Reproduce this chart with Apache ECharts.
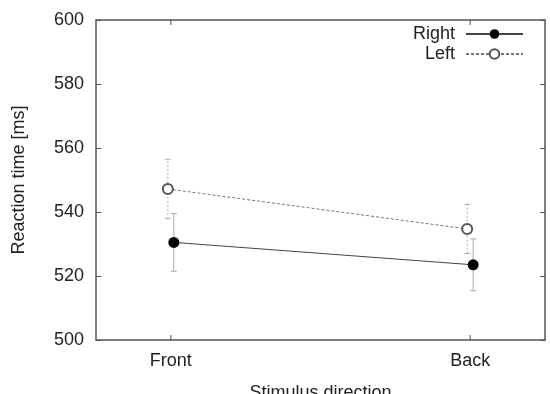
<!DOCTYPE html>
<html><head><meta charset="utf-8">
<script src="https://cdn.jsdelivr.net/npm/echarts@6/dist/echarts.min.js"></script>
<style>html,body{margin:0;padding:0;background:#fff}#c{width:550px;height:394px}</style>
</head><body><div id="c"></div>
<script>
const categories = ['Front', 'Back'];
const rightMeans = [530.5, 523.5];
const rightErr = [9.0, 8.1];
const leftMeans = [547.2, 534.7];
const leftErr = [9.3, 7.7];
const yTicks = [500, 520, 540, 560, 580, 600];
const offset = 0.01;

const FONT = 'Liberation Sans';
const FS = 18;
const TXT = '#222';
const chart = echarts.init(document.getElementById('c'));

function pts(means, dx) { return means.map((v, i) => [i + dx, v]); }
function errData(means, errs, dx) { return means.map((v, i) => [i + dx, v - errs[i], v + errs[i]]); }

function errSeries(data, dashed) {
  return {
    type: 'custom', silent: true, z: 1,
    data: data,
    renderItem: function (params, api) {
      const x = api.value(0);
      const lo = api.coord([x, api.value(1)]);
      const hi = api.coord([x, api.value(2)]);
      const w = 3;
      const style = { stroke: '#aaa', lineWidth: 1, lineDash: dashed ? [2, 2] : null };
      return { type: 'group', children: [
        { type: 'line', shape: { x1: lo[0], y1: lo[1], x2: hi[0], y2: hi[1] }, style: style },
        { type: 'line', shape: { x1: lo[0] - w, y1: lo[1], x2: lo[0] + w, y2: lo[1] }, style: { stroke: '#aaa', lineWidth: 1 } },
        { type: 'line', shape: { x1: hi[0] - w, y1: hi[1], x2: hi[0] + w, y2: hi[1] }, style: { stroke: '#aaa', lineWidth: 1 } }
      ]};
    }
  };
}

const axisLineStyle = { color: '#555', width: 1.5 };
chart.setOption({
  animation: false,
  textStyle: { fontFamily: FONT },
  grid: { left: 96, right: 5, top: 20, bottom: 54, containLabel: false, outerBoundsMode: 'none' },
  legend: {
    right: 21, top: 20, orient: 'vertical', align: 'right',
    itemWidth: 57, itemHeight: 12, itemGap: 2,
    textStyle: { fontFamily: FONT, fontSize: FS, color: TXT, padding: [0, 6, 0, 0] },
    data: ['Right', 'Left']
  },
  xAxis: [{
    type: 'value', min: -0.25, max: 1.25, interval: 0.25,
    name: 'Stimulus direction', nameLocation: 'middle', nameGap: 44,
    nameTextStyle: { fontFamily: FONT, fontSize: FS, color: TXT },
    axisLine: { onZero: false, lineStyle: axisLineStyle },
    axisTick: { show: false },
    splitLine: { show: false },
    axisLabel: {
      fontFamily: FONT, fontSize: FS, color: TXT, margin: 12,
      formatter: function (v) {
        const i = Math.round(v);
        return Math.abs(v - i) < 1e-6 && categories[i] !== undefined ? categories[i] : '';
      }
    }
  }, {
    type: 'value', min: -0.25, max: 1.25, interval: 0.25, position: 'top',
    axisLine: { onZero: false, lineStyle: axisLineStyle },
    axisTick: { show: false }, axisLabel: { show: false }, splitLine: { show: false }
  }],
  yAxis: [{
    type: 'value', min: 500, max: 600, interval: 20,
    name: 'Reaction time [ms]', nameLocation: 'middle', nameGap: 68,
    nameTextStyle: { fontFamily: FONT, fontSize: FS, color: TXT },
    axisLine: { show: true, onZero: false, lineStyle: axisLineStyle },
    axisTick: { show: true, inside: true, length: 5, lineStyle: { color: '#555' } },
    axisLabel: { fontFamily: FONT, fontSize: FS, color: TXT, margin: 12 },
    splitLine: { show: false }
  }, {
    type: 'value', min: 500, max: 600, interval: 20, position: 'right',
    axisLine: { show: true, onZero: false, lineStyle: axisLineStyle },
    axisTick: { show: true, inside: true, length: 5, lineStyle: { color: '#555' } },
    axisLabel: { show: false },
    splitLine: { show: false }
  }],
  series: [
    errSeries(errData(rightMeans, rightErr, offset), false),
    errSeries(errData(leftMeans, leftErr, -offset), true),
    {
      name: 'Right', type: 'line', data: pts(rightMeans, offset), z: 3,
      symbol: 'circle', symbolSize: 11,
      itemStyle: { color: '#000' },
      lineStyle: { color: '#444', width: 1 }
    },
    {
      name: 'Left', type: 'line', data: pts(leftMeans, -offset), z: 3,
      symbol: 'emptyCircle', symbolSize: 10,
      itemStyle: { color: '#555', borderColor: '#555', borderWidth: 1 },
      lineStyle: { color: '#777', width: 1, type: [3, 2] }
    }
  ]
});

// inward category tick marks at bottom and top
const g = [];
categories.forEach((c, i) => {
  const pb = chart.convertToPixel({ xAxisIndex: 0, yAxisIndex: 0 }, [i, 500]);
  const pt = chart.convertToPixel({ xAxisIndex: 0, yAxisIndex: 0 }, [i, 600]);
  g.push({ type: 'line', shape: { x1: pb[0], y1: pb[1], x2: pb[0], y2: pb[1] - 5 }, style: { stroke: '#555', lineWidth: 1 } });
  g.push({ type: 'line', shape: { x1: pt[0], y1: pt[1], x2: pt[0], y2: pt[1] + 5 }, style: { stroke: '#555', lineWidth: 1 } });
});
chart.setOption({ graphic: g });
</script></body></html>
